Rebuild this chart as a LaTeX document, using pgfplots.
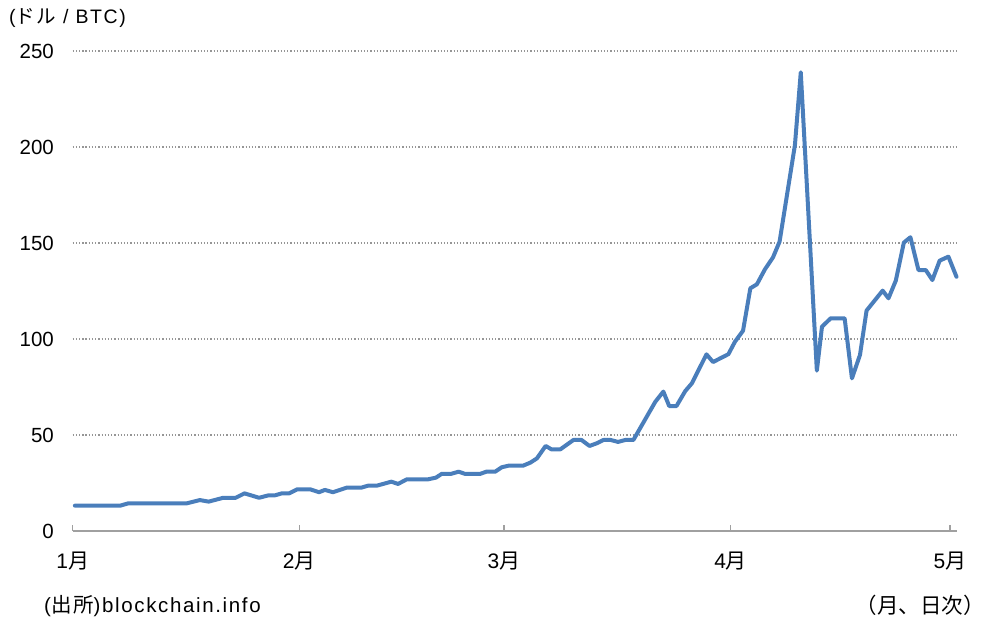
\documentclass[border=0pt]{standalone}
\usepackage{pgfplots}
\pgfplotsset{compat=1.18}
\usepackage{fontspec}
\setmainfont{Liberation Sans}
\newfontfamily\jp{Noto Sans CJK JP}
\newfontfamily\wide[LetterSpace=8]{Liberation Sans}
\newfontfamily\jpwide[LetterSpace=8]{Noto Sans CJK JP}
\definecolor{btc}{RGB}{74,126,187}
\definecolor{gridc}{RGB}{150,150,150}
\definecolor{axc}{RGB}{160,160,160}
\begin{document}
\fontsize{20pt}{24pt}\selectfont
\begin{tikzpicture}[x=1pt,y=1pt]
\path[use as bounding box] (0,0) rectangle (987,620);
\begin{axis}[
  at={(72.7pt,89pt)}, anchor=south west,
  scale only axis, width=884.5pt, height=480pt,
  xmin=0, xmax=121, ymin=0, ymax=250,
  axis x line*=bottom, axis y line*=left,
  y axis line style={draw=none},
  x axis line style={draw=axc, line width=1.3pt, -},
  ytick={0,50,100,150,200,250},
  ytick style={draw=none},
  xtick={0,31,59,90,120},
  xticklabels={1{\jp 月},2{\jp 月},3{\jp 月},4{\jp 月},5{\jp 月}},
  xtick style={draw=axc, line width=1.3pt},
  tick align=inside, major tick length=6pt,
  ymajorgrids, grid style={draw=gridc, line width=1.3pt, dash pattern=on 1.3pt off 1.9pt},
  /pgf/number format/assume math mode=true,
  yticklabel style={font=\fontsize{20.5pt}{24pt}\selectfont, xshift=-12pt},
  xticklabel style={font=\fontsize{21pt}{24pt}\selectfont, yshift=-14pt},
  clip=false,
]
\addplot[btc, line width=4pt, line join=round, line cap=round] coordinates {
(0.3,13.2)(6.5,13.2)(7.6,14.4)(15.6,14.4)(17.4,16.1)(18.6,15.3)(20.6,17.3)(22.3,17.3)(23.5,19.6)(25.5,17.3)(26.8,18.6)(27.7,18.6)(28.6,19.6)(29.6,19.6)(30.7,21.7)(32.5,21.7)(33.7,20.2)(34.5,21.4)(35.6,20.2)(37.5,22.6)(39.5,22.6)(40.4,23.6)(41.6,23.6)(43.6,25.7)(44.5,24.5)(45.7,26.9)(48.6,26.9)(49.7,27.8)(50.5,29.8)(51.8,29.8)(52.8,30.9)(53.7,29.7)(55.7,29.7)(56.6,30.9)(57.8,30.9)(58.7,33.2)(59.6,34.0)(61.6,34.0)(62.6,35.6)(63.5,37.8)(64.7,44.3)(65.5,42.5)(66.7,42.5)(67.4,44.4)(68.5,47.4)(69.6,47.4)(70.7,44.3)(71.7,45.7)(72.6,47.4)(73.6,47.4)(74.6,46.4)(75.6,47.4)(76.7,47.4)(79.7,67.3)(80.8,72.6)(81.6,65.1)(82.6,65.1)(83.8,72.9)(84.7,76.9)(86.7,92.0)(87.6,88.0)(89.7,92.1)(90.6,98.6)(91.7,104.3)(92.7,126.4)(93.6,128.5)(94.7,136.3)(95.8,142.5)(96.7,150.7)(98.8,201)(99.6,238.9)(101.8,83.5)(102.5,106.4)(103.7,110.8)(105.6,110.8)(106.6,79.5)(107.7,91.7)(108.6,114.8)(110.8,125.2)(111.6,121.2)(112.6,130.4)(113.7,150.2)(114.6,153)(115.7,135.9)(116.7,135.9)(117.6,130.7)(118.6,140.8)(119.8,142.9)(120.9,132.4)
};
\end{axis}
\node[anchor=west, inner sep=0pt, font=\fontsize{19.5pt}{22pt}\selectfont] at (9,602) {\wide({\jpwide ドル} / BTC)};
\node[anchor=west, inner sep=0pt, font=\fontsize{20.5pt}{22pt}\selectfont] at (44,14) {\wide({\jpwide 出所})blockchain.info};
\node[anchor=east, inner sep=0pt, font=\fontsize{21.5pt}{24pt}\selectfont] at (985,15) {\jp （月、日次）};
\end{tikzpicture}
\end{document}
